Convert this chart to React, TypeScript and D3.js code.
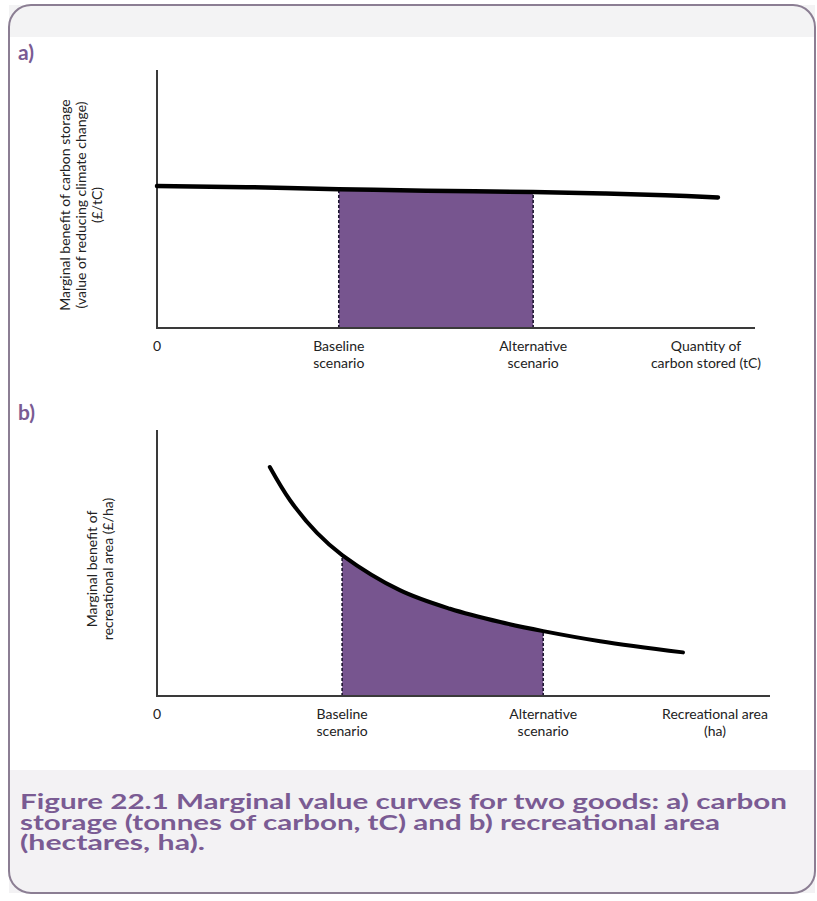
import { useEffect, useRef } from 'react';
import * as d3 from 'd3';

// Panel a: marginal benefit of carbon storage (almost flat)
const carbonCurveX = [0, 15, 30.4, 45, 62.9, 75, 85, 93.8];
const carbonCurveY = [55.0, 54.6, 53.8, 53.2, 52.7, 52.1, 51.5, 50.6];

// Panel b: marginal benefit of recreational area (declining)
const recCurveX = [18.4, 21.7, 26.1, 30.2, 39.6, 47.8, 56.0, 63.0, 72.3, 85.8];
const recCurveY = [86.1, 73.6, 61.3, 53.0, 39.8, 32.8, 27.8, 24.4, 20.6, 16.4];

// scenario positions on the quantity axis
const carbonScenarios = [30.4, 62.9];
const recScenarios = [30.2, 63.0];

const scenarioLabels = [
  ['Baseline', 'scenario'],
  ['Alternative', 'scenario'],
];
const carbonAxisTitle = ['Quantity of', 'carbon stored (tC)'];
const recAxisTitle = ['Recreational area', '(ha)'];
const carbonYTitle = [
  'Marginal benefit of carbon storage',
  '(value of reducing climate change)',
  '(£/tC)',
];
const recYTitle = ['Marginal benefit of', 'recreational area (£/ha)'];
const captionLines = [
  'Figure 22.1 Marginal value curves for two goods: a) carbon',
  'storage (tonnes of carbon, tC) and b) recreational area',
  '(hectares, ha).',
];

const PURPLE = '#77558f';
const CAPTION = '#7a5b93';
const FONT = 'Lato, "Open Sans", sans-serif';
const LABEL_SIZE = 14;

const App = () => {
  const svgRef = useRef<SVGSVGElement | null>(null);

  useEffect(() => {
    if (!svgRef.current) return;
    const svg = d3.select(svgRef.current);
    svg.selectAll('*').remove();

    // frame
    svg.append('rect')
      .attr('x', 9).attr('y', 5).attr('width', 806).attr('height', 888)
      .attr('rx', 22).attr('fill', '#ffffff');
    svg.append('rect')
      .attr('x', 9).attr('y', 5).attr('width', 806).attr('height', 32)
      .attr('fill', '#f3f3f4');
    svg.append('rect')
      .attr('x', 9).attr('y', 770).attr('width', 806).attr('height', 123)
      .attr('fill', '#f3f2f4');
    svg.append('rect')
      .attr('x', 9).attr('y', 5).attr('width', 806).attr('height', 888)
      .attr('rx', 22).attr('fill', 'none')
      .attr('stroke', '#8b7e93').attr('stroke-width', 2);

    const drawPanel = (opts: {
      id: string;
      letter: string;
      letterY: number;
      x0: number; x1: number; y0: number; y1: number;
      xs: number[]; ys: number[];
      scen: number[];
      axisTitle: string[];
      axisTitleX: number;
      yTitle: string[];
      yTitleX: number[];
      curveWidth: number;
    }) => {
      const x = d3.scaleLinear().domain([0, 100]).range([opts.x0, opts.x1]);
      const y = d3.scaleLinear().domain([0, 100]).range([opts.y0, opts.y1]);
      const g = svg.append('g');

      const pts = opts.xs.map((v, i) => [v, opts.ys[i]] as [number, number]);
      const curve = d3.curveCatmullRom.alpha(0.5);

      // clip the shaded area to the scenario interval
      svg.append('defs').append('clipPath').attr('id', opts.id)
        .append('rect')
        .attr('x', x(opts.scen[0])).attr('y', y(100))
        .attr('width', x(opts.scen[1]) - x(opts.scen[0]))
        .attr('height', y(0) - y(100));

      const area = d3.area<[number, number]>()
        .x((d) => x(d[0])).y0(y(0)).y1((d) => y(d[1]))
        .curve(curve);
      g.append('path').datum(pts)
        .attr('d', area)
        .attr('fill', PURPLE)
        .attr('clip-path', `url(#${opts.id})`);

      const line = d3.line<[number, number]>()
        .x((d) => x(d[0])).y((d) => y(d[1]))
        .curve(curve);
      const curvePath = g.append('path').datum(pts)
        .attr('d', line)
        .attr('fill', 'none');

      // find the curve height above each scenario from the drawn path
      const node = curvePath.node() as SVGPathElement;
      const total = node.getTotalLength();
      const curveYAt = (px: number) => {
        let lo = 0;
        let hi = total;
        for (let k = 0; k < 30; k++) {
          const mid = (lo + hi) / 2;
          if (node.getPointAtLength(mid).x < px) lo = mid; else hi = mid;
        }
        return node.getPointAtLength(lo).y;
      };

      opts.scen.forEach((s) => {
        g.append('line')
          .attr('x1', x(s)).attr('x2', x(s))
          .attr('y1', y(0)).attr('y2', curveYAt(x(s)))
          .attr('stroke', '#1d1630').attr('stroke-width', 1.6)
          .attr('stroke-dasharray', '3,2');
      });

      // axes
      g.append('line')
        .attr('x1', x(0)).attr('x2', x(0)).attr('y1', y(0)).attr('y2', y(100))
        .attr('stroke', '#3a3a3a').attr('stroke-width', 2);
      g.append('line')
        .attr('x1', x(0) - 1).attr('x2', x(100)).attr('y1', y(0)).attr('y2', y(0))
        .attr('stroke', '#3a3a3a').attr('stroke-width', 2);

      curvePath.raise()
        .attr('stroke', '#000')
        .attr('stroke-width', opts.curveWidth).attr('stroke-linecap', 'round');

      const label = (tx: number, lines: string[]) => {
        const t = g.append('text')
          .attr('x', tx).attr('y', y(0) + 23)
          .attr('text-anchor', 'middle')
          .attr('font-family', FONT).attr('font-size', LABEL_SIZE)
          .attr('fill', '#222');
        lines.forEach((l, i) => {
          t.append('tspan').attr('x', tx).attr('dy', i === 0 ? 0 : 17).text(l);
        });
      };
      g.append('text')
        .attr('x', x(0)).attr('y', y(0) + 23)
        .attr('text-anchor', 'middle')
        .attr('font-family', FONT).attr('font-size', LABEL_SIZE).attr('fill', '#222')
        .text('0');
      opts.scen.forEach((s, i) => label(x(s), scenarioLabels[i]));
      label(opts.axisTitleX, opts.axisTitle);

      const midY = (y(0) + y(100)) / 2 + 6;
      opts.yTitle.forEach((l, i) => {
        g.append('text')
          .attr('transform', `translate(${opts.yTitleX[i]},${midY}) rotate(-90)`)
          .attr('text-anchor', 'middle')
          .attr('font-family', FONT).attr('font-size', LABEL_SIZE).attr('fill', '#222')
          .text(l);
      });

      g.append('text')
        .attr('x', 18).attr('y', opts.letterY)
        .attr('font-family', FONT).attr('font-weight', 700).attr('font-size', 21)
        .attr('fill', CAPTION)
        .text(opts.letter);
    };

    drawPanel({
      id: 'clipA', letter: 'a)', letterY: 60,
      x0: 157, x1: 755, y0: 328, y1: 70,
      xs: carbonCurveX, ys: carbonCurveY, scen: carbonScenarios,
      axisTitle: carbonAxisTitle, axisTitleX: 706,
      yTitle: carbonYTitle, yTitleX: [70, 86, 102],
      curveWidth: 4.5,
    });
    drawPanel({
      id: 'clipB', letter: 'b)', letterY: 420,
      x0: 157, x1: 770, y0: 696, y1: 430,
      xs: recCurveX, ys: recCurveY, scen: recScenarios,
      axisTitle: recAxisTitle, axisTitleX: 715,
      yTitle: recYTitle, yTitleX: [97, 113],
      curveWidth: 4,
    });

    // caption
    const widths = [767, 700, 185];
    captionLines.forEach((l, i) => {
      svg.append('text')
        .attr('x', 20).attr('y', 809 + i * 20.5)
        .attr('font-family', FONT).attr('font-weight', 700).attr('font-size', 20)
        .attr('fill', CAPTION)
        .attr('textLength', widths[i]).attr('lengthAdjust', 'spacingAndGlyphs')
        .text(l);
    });
  }, []);

  return (
    <svg
      ref={svgRef}
      width={817}
      height={901}
      style={{ position: 'absolute', left: 0, top: 0, background: '#fff' }}
    />
  );
};

export default App;
